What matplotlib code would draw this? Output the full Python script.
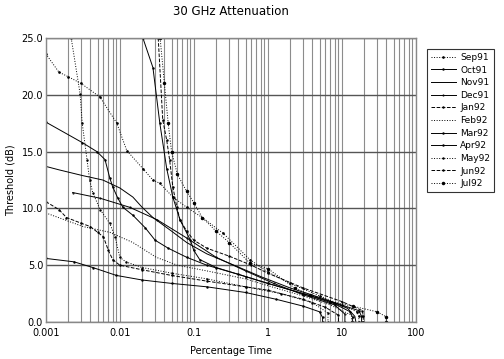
import numpy as np
import matplotlib
matplotlib.use('Agg')
import matplotlib.pyplot as plt
import matplotlib.ticker as mticker

# percentage time / threshold (dB)
sep91_p = [0.001, 0.0015, 0.002, 0.003, 0.0054, 0.0091, 0.0124, 0.0205, 0.028, 0.035, 0.052, 0.08, 0.13, 0.25, 0.57, 1, 2, 5, 10, 16, 17, 17]
sep91_db = [23.6, 22.0, 21.6, 21.0, 19.8, 17.5, 15.1, 13.5, 12.5, 12.2, 11.0, 10.1, 9.2, 7.8, 5.5, 4.4, 3.4, 2.3, 1.5, 0.9, 0.5, 0.0]

oct91_p = [0.001, 0.0031, 0.0049, 0.0063, 0.0073, 0.008, 0.0094, 0.011, 0.015, 0.022, 0.03, 0.045, 0.08, 0.15, 0.4, 1, 3, 8, 13, 14, 14]
oct91_db = [17.6, 15.8, 15.0, 14.3, 12.7, 11.9, 10.9, 10.1, 9.4, 8.3, 7.2, 6.5, 5.7, 5.0, 4.2, 3.4, 2.5, 1.6, 0.9, 0.4, 0.0]

nov91_p = [0.001, 0.0015, 0.0031, 0.0059, 0.01, 0.015, 0.02, 0.028, 0.05, 0.08, 0.15, 0.35, 0.8, 2, 6, 12, 15, 15.5]
nov91_db = [13.7, 13.4, 12.9, 12.5, 11.8, 11.0, 10.1, 9.2, 8.0, 7.0, 6.0, 5.0, 4.0, 3.0, 2.0, 1.2, 0.5, 0.0]

dec91_p = [0.0023, 0.0054, 0.0136, 0.032, 0.08, 0.2, 0.5, 1.2, 3, 8, 11, 11]
dec91_db = [11.4, 10.9, 10.1, 9.0, 7.4, 5.7, 4.5, 3.4, 2.4, 1.5, 0.7, 0.0]

jan92_p = [0.001, 0.0015, 0.0019, 0.003, 0.004, 0.005, 0.006, 0.007, 0.008, 0.01, 0.02, 0.05, 0.15, 0.5, 1, 3, 6, 9, 9]
jan92_db = [10.6, 9.9, 9.2, 8.7, 8.4, 7.9, 7.5, 6.3, 5.5, 5.0, 4.6, 4.1, 3.6, 3.1, 2.8, 2.0, 1.3, 0.6, 0.0]

feb92_p = [0.001, 0.0032, 0.0073, 0.015, 0.031, 0.06, 0.15, 0.5, 1, 3, 7, 13.5, 13.5]
feb92_db = [9.6, 8.4, 7.9, 7.0, 5.7, 5.0, 4.5, 3.8, 3.2, 2.3, 1.5, 0.6, 0.0]

mar92_p = [0.0205, 0.028, 0.0347, 0.043, 0.052, 0.065, 0.09, 0.1, 0.12, 0.2, 0.5, 1, 3, 8, 17, 18.5, 18.5]
mar92_db = [25.0, 22.4, 17.5, 13.5, 11.0, 9.0, 7.2, 6.3, 5.5, 4.8, 4.0, 3.4, 2.5, 1.7, 1.0, 0.5, 0.0]

apr92_p = [0.001, 0.0024, 0.0043, 0.009, 0.02, 0.05, 0.15, 0.5, 1.3, 3, 5, 5.5, 5.5]
apr92_db = [5.6, 5.3, 4.8, 4.1, 3.7, 3.4, 3.1, 2.6, 2.0, 1.4, 0.9, 0.4, 0.0]

may92_p = [0.0022, 0.0029, 0.0031, 0.0036, 0.0039, 0.0043, 0.0054, 0.0073, 0.0086, 0.01, 0.012, 0.02, 0.05, 0.15, 0.5, 1.5, 4, 6.5, 6.5]
may92_db = [25.0, 20.1, 17.5, 14.3, 12.5, 11.4, 9.9, 8.7, 7.5, 5.7, 5.3, 4.8, 4.3, 3.8, 3.1, 2.5, 1.7, 0.8, 0.0]

jun92_p = [0.033, 0.038, 0.043, 0.047, 0.052, 0.059, 0.065, 0.08, 0.1, 0.15, 0.3, 0.6, 1, 3, 10, 19, 19.5, 19.5]
jun92_db = [25.0, 17.8, 16.0, 14.3, 11.9, 10.1, 9.0, 8.0, 7.2, 6.5, 5.8, 5.0, 4.3, 3.0, 1.8, 1.0, 0.5, 0.0]

jul92_p = [0.035, 0.04, 0.045, 0.05, 0.06, 0.08, 0.1, 0.13, 0.2, 0.3, 0.57, 1, 2.3, 3.7, 7, 14, 30, 40, 40]
jul92_db = [25.0, 21.0, 17.5, 15.0, 13.0, 11.5, 10.5, 9.2, 8.0, 7.0, 5.2, 4.7, 3.0, 2.4, 1.8, 1.4, 0.9, 0.45, 0.0]

series = [('Sep91', sep91_p, sep91_db), ('Oct91', oct91_p, oct91_db),
          ('Nov91', nov91_p, nov91_db), ('Dec91', dec91_p, dec91_db),
          ('Jan92', jan92_p, jan92_db), ('Feb92', feb92_p, feb92_db),
          ('Mar92', mar92_p, mar92_db), ('Apr92', apr92_p, apr92_db),
          ('May92', may92_p, may92_db), ('Jun92', jun92_p, jun92_db),
          ('Jul92', jul92_p, jul92_db)]

estilos = {'Sep91': (':', '.', 1.8), 'Oct91': ('-', '.', 1.5), 'Nov91': ('-', '', 0),
           'Dec91': ('-', '.', 1.0), 'Jan92': ('--', '.', 1.5), 'Feb92': (':', '', 0),
           'Mar92': ('-', '.', 1.5), 'Apr92': ('-', '.', 1.5), 'May92': (':', '.', 1.5),
           'Jun92': ('--', '.', 1.5), 'Jul92': (':', '.', 3.0)}

plt.rcParams['font.family'] = 'DejaVu Sans'
fig = plt.figure(figsize=(5.04, 3.59), dpi=100)
ax = fig.add_axes([0.091, 0.103, 0.734, 0.791])

for nombre, p, db in series:
    ls, mk, ms = estilos[nombre]
    ax.plot(p, db, color='black', lw=0.7, ls=ls, marker=mk if mk else None,
            ms=ms, label=nombre)

ax.set_xscale('log')
ax.set_xlim(0.001, 100)
ax.set_ylim(0, 25)
ax.xaxis.set_major_locator(mticker.FixedLocator([0.001, 0.01, 0.1, 1, 10, 100]))
ax.xaxis.set_major_formatter(mticker.FixedFormatter(['0.001', '0.01', '0.1', '1', '10', '100']))
ax.xaxis.set_minor_locator(mticker.LogLocator(base=10, subs=np.arange(2, 10)))
ax.xaxis.set_minor_formatter(mticker.NullFormatter())
ax.yaxis.set_major_locator(mticker.MultipleLocator(5))
ax.yaxis.set_major_formatter(mticker.FormatStrFormatter('%.1f'))
ax.tick_params(which='both', length=0, labelsize=7)
ax.tick_params(axis='x', pad=4)
ax.tick_params(axis='y', pad=2)

ax.grid(True, which='major', axis='y', color='#555555', lw=1.0)
ax.grid(True, which='both', axis='x', color='#8c8c8c', lw=0.8)
ax.set_axisbelow(True)
for s in ax.spines.values():
    s.set_color('#888888')
    s.set_linewidth(1.0)

ax.set_xlabel('Percentage Time', fontsize=7, labelpad=6)
ax.set_ylabel('Threshold (dB)', fontsize=7, labelpad=4)
fig.text(0.458, 0.968, '30 GHz Attenuation', ha='center', va='center', fontsize=8.5)

leg = ax.legend(loc='upper left', bbox_to_anchor=(1.03, 0.96), fontsize=6.5,
                frameon=True, fancybox=False, edgecolor='black', handlelength=2.8,
                handletextpad=0.5, labelspacing=0.4, borderpad=0.4,
                borderaxespad=0)
leg.get_frame().set_linewidth(0.8)

fig.savefig('out.png', dpi=100)
